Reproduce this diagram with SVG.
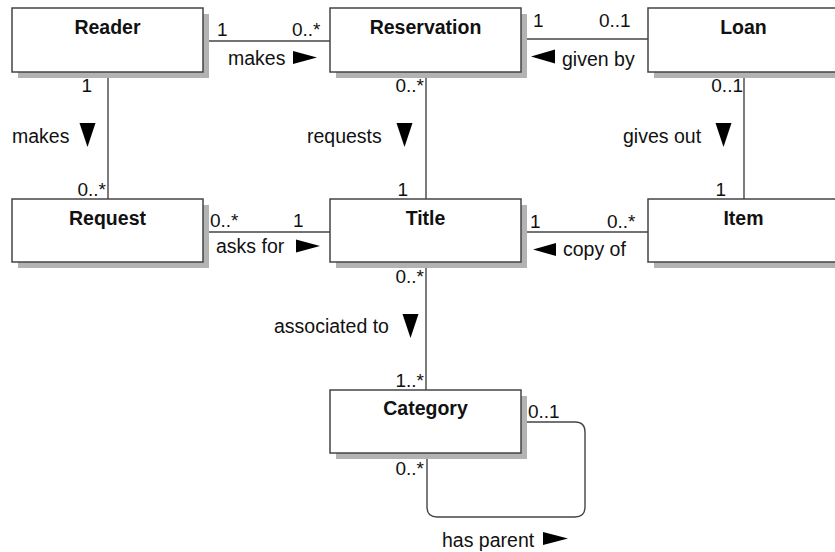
<svg xmlns="http://www.w3.org/2000/svg" width="835" height="552" viewBox="0 0 835 552">
<style>
text { font-family: "Liberation Sans", Arial, sans-serif; font-size: 19px; fill: #111; }
.name { font-weight: bold; text-anchor: middle; font-size: 19.5px; }
.lbl { font-size: 19.5px; }
.end { text-anchor: end; }
.box { fill: #fff; stroke: #444; stroke-width: 1.5; }
.shadow { fill: #b3b3b3; stroke: none; }
.conn { fill: none; stroke: #444; stroke-width: 1.4; }
.arr { fill: #000; stroke: none; }
</style>
<rect width="835" height="552" fill="#fff"/>
<g id="connectors">
  <line class="conn" x1="203" y1="41" x2="330" y2="41"/>
  <line class="conn" x1="521" y1="39" x2="648" y2="39"/>
  <line class="conn" x1="108" y1="72" x2="108" y2="199"/>
  <line class="conn" x1="426" y1="72" x2="426" y2="199"/>
  <line class="conn" x1="744" y1="72" x2="744" y2="199"/>
  <line class="conn" x1="203" y1="232" x2="330" y2="232"/>
  <line class="conn" x1="521" y1="232" x2="648" y2="232"/>
  <line class="conn" x1="426" y1="262" x2="426" y2="390"/>
  <path class="conn" d="M521,422 H575 Q585,422 585,432 V507 Q585,517 575,517 H437 Q427,517 427,507 V453"/>
  <!-- Reader-Reservation -->
  <text x="217" y="36">1</text>
  <text x="292" y="36">0..*</text>
  <text class="lbl" x="228" y="65">makes</text>
  <polygon class="arr" points="293,51 317,57.5 293,64"/>
  <!-- Reservation-Loan -->
  <text x="533" y="27">1</text>
  <text x="599" y="27">0..1</text>
  <text class="lbl" x="562" y="66">given by</text>
  <polygon class="arr" points="555,49.5 531,56.5 555,63.5"/>
  <!-- Reader-Request -->
  <text class="end" x="92" y="92">1</text>
  <text class="end" x="106" y="196">0..*</text>
  <text class="lbl" x="12" y="143">makes</text>
  <polygon class="arr" points="79.5,123 95.5,123 87.5,147"/>
  <!-- Reservation-Title -->
  <text class="end" x="424" y="92">0..*</text>
  <text class="lbl" x="307" y="143">requests</text>
  <polygon class="arr" points="396.5,123 412.5,123 404.5,147"/>
  <text class="end" x="408" y="196">1</text>
  <!-- Loan-Item -->
  <text class="end" x="743" y="92">0..1</text>
  <text class="lbl" x="623" y="143">gives out</text>
  <polygon class="arr" points="715.5,123 731.5,123 723.5,147"/>
  <text class="end" x="726" y="196">1</text>
  <!-- Request-Title -->
  <text x="210" y="227">0..*</text>
  <text x="293" y="227">1</text>
  <text class="lbl" x="216" y="253">asks for</text>
  <polygon class="arr" points="296,239.5 320,246 296,252.5"/>
  <!-- Title-Item -->
  <text x="530" y="228">1</text>
  <text x="607" y="228">0..*</text>
  <text class="lbl" x="563" y="256">copy of</text>
  <polygon class="arr" points="556,243 533,249.5 556,256"/>
  <!-- Title-Category -->
  <text class="end" x="424" y="283">0..*</text>
  <text class="lbl" x="274" y="333">associated to</text>
  <polygon class="arr" points="402.5,314 418.5,314 410.5,338"/>
  <text class="end" x="424" y="387">1..*</text>
  <!-- Category self -->
  <text x="528" y="418">0..1</text>
  <text class="end" x="424" y="475">0..*</text>
  <text class="lbl" x="442" y="547">has parent</text>
  <polygon class="arr" points="543,532 568,538.5 543,545"/>
</g>
<g id="reader">
  <rect class="shadow" x="18" y="14" width="191" height="64"/>
  <rect class="box" x="12" y="8" width="191" height="64"/>
  <text class="name" x="107.5" y="33.5">Reader</text>
</g>
<g id="reservation">
  <rect class="shadow" x="336" y="14" width="191" height="64"/>
  <rect class="box" x="330" y="8" width="191" height="64"/>
  <text class="name" x="425.5" y="33.5">Reservation</text>
</g>
<g id="loan">
  <rect class="shadow" x="654" y="14" width="191" height="64"/>
  <rect class="box" x="648" y="8" width="191" height="64"/>
  <text class="name" x="743.5" y="33.5">Loan</text>
</g>
<g id="request">
  <rect class="shadow" x="18" y="205" width="191" height="63"/>
  <rect class="box" x="12" y="199" width="191" height="63"/>
  <text class="name" x="107.5" y="224.5">Request</text>
</g>
<g id="title">
  <rect class="shadow" x="336" y="205" width="191" height="63"/>
  <rect class="box" x="330" y="199" width="191" height="63"/>
  <text class="name" x="425.5" y="224.5">Title</text>
</g>
<g id="item">
  <rect class="shadow" x="654" y="205" width="191" height="63"/>
  <rect class="box" x="648" y="199" width="191" height="63"/>
  <text class="name" x="743.5" y="224.5">Item</text>
</g>
<g id="category">
  <rect class="shadow" x="336" y="396" width="191" height="63"/>
  <rect class="box" x="330" y="390" width="191" height="63"/>
  <text class="name" x="425.5" y="415">Category</text>
</g>
</svg>
